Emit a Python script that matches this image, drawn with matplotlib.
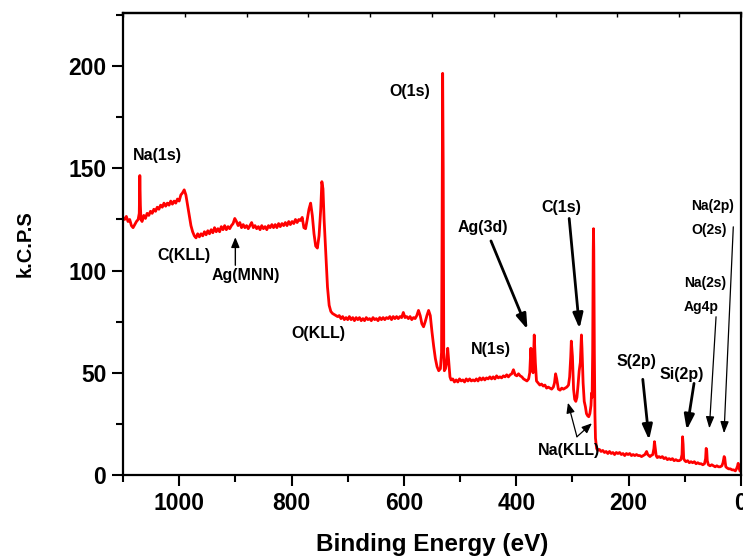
import matplotlib
matplotlib.use("Agg")
import matplotlib.pyplot as plt
from matplotlib.ticker import MultipleLocator, FixedLocator

plt.rcParams['font.family'] = ['Liberation Sans', 'DejaVu Sans']
plt.rcParams['font.weight'] = 'bold'

energy = [1100, 1097, 1094, 1091, 1088, 1085, 1082, 1079, 1076, 1073, 1071, 1070, 1069, 1068, 1066, 1063, 1060, 1057, 1054, 1051,
          1048, 1045, 1042, 1039, 1036, 1033, 1030, 1027, 1024, 1021, 1018, 1015, 1012, 1009, 1006, 1003, 1000, 997, 994, 991,
          988, 985, 982, 979, 976, 973, 970, 967, 964, 961, 958, 955, 952, 949, 946, 943, 940, 937, 934, 931,
          928, 925, 922, 919, 916, 913, 910, 907, 904, 901, 898, 895, 892, 889, 886, 883, 880, 877, 874, 871,
          868, 865, 862, 859, 856, 853, 850, 847, 844, 841, 838, 835, 832, 829, 826, 823, 820, 817, 814, 811,
          808, 805, 802, 799, 796, 793, 790, 787, 784, 781, 778, 775, 772, 769, 766, 763, 760, 757, 754, 751,
          748, 746, 744, 742, 739, 736, 733, 730, 727, 724, 721, 718, 715, 712, 709, 706, 703, 700, 697, 694,
          691, 688, 685, 682, 679, 676, 673, 670, 667, 664, 661, 658, 655, 652, 649, 646, 643, 640, 637, 634,
          631, 628, 625, 622, 619, 616, 613, 610, 607, 604, 601, 598, 595, 592, 589, 586, 583, 580, 577, 574,
          571, 568, 565, 562, 559, 556, 553, 550, 547, 544, 541, 538, 535, 533, 532, 531, 530, 529, 528, 526,
          524, 522, 520, 518, 516, 513, 510, 507, 504, 501, 498, 495, 492, 489, 486, 483, 480, 477, 474, 471,
          468, 465, 462, 459, 456, 453, 450, 447, 444, 441, 438, 435, 432, 429, 426, 423, 420, 417, 414, 411,
          408, 405, 402, 399, 396, 393, 390, 387, 384, 381, 378, 376, 374, 372, 370, 368, 366, 364, 361, 358,
          355, 352, 349, 346, 343, 340, 337, 334, 332, 330, 328, 325, 322, 319, 316, 313, 310, 307, 305, 303,
          302, 300, 298, 296, 294, 292, 290, 288, 286, 285, 284, 283, 281, 279, 277, 275, 273, 271, 269, 267,
          266, 265, 264, 263, 262.5, 262, 261, 260, 259, 257, 255, 252, 249, 246, 243, 240, 237, 234, 231, 228,
          225, 222, 219, 216, 213, 210, 207, 204, 201, 198, 195, 192, 189, 186, 183, 180, 177, 174, 171, 168,
          166, 164, 162, 160, 157, 155, 154, 153, 151, 149, 146, 143, 140, 137, 134, 131, 128, 125, 122, 119,
          116, 113, 110, 107, 105, 104, 103, 102, 100, 98, 95, 92, 89, 86, 83, 80, 77, 74, 71, 68,
          65, 63, 62, 61, 60, 58, 55, 52, 49, 46, 43, 40, 37, 34, 32, 30, 29, 28, 27, 25,
          22, 19, 16, 13, 10, 8, 6, 5, 4, 2, 0]

kcps = [126, 125, 126.5, 124, 125, 122, 121, 122.5, 124, 125, 128, 146.5, 132, 125, 124, 127, 125.5, 128, 127, 129,
        128, 130, 129, 131, 130, 132, 131, 133, 131.5, 133, 132, 134, 132.5, 134, 133, 135, 134, 137, 138, 139.5,
        137, 132, 127, 122, 119, 117, 116, 118, 116.5, 118, 117, 119, 117.5, 119.5, 118, 120, 118.5, 121, 119, 120.5,
        119, 121.5, 120, 122, 120, 121.5, 120.5, 122, 123, 125.5, 124, 122, 123.5, 121, 122.5, 121, 122, 120.5, 122, 123.5,
        121, 122, 120.5, 121.5, 120, 122, 120.5, 121.5, 120, 122, 121, 122.5, 121, 122.5, 121, 123, 121.5, 123, 122, 123.5,
        122, 124, 122.5, 124, 123, 125, 123.5, 125, 124.5, 126, 121, 120.5, 125, 130, 133, 127, 118, 112, 111, 117,
        130, 143.5, 140, 125, 108, 92, 83, 80, 79, 78.5, 78, 77.5, 78, 76.5, 77.5, 76, 77, 76, 77.5, 76,
        77, 75.5, 77, 76, 77, 75.5, 76.5, 75.5, 77, 76, 76.5, 75.5, 77, 76, 76.5, 75.5, 77, 76, 77, 76,
        77, 76.5, 77.5, 76, 77.5, 76.5, 77.5, 76.5, 77.5, 77, 79.5, 77, 77.5, 76.5, 77.5, 76, 77, 76.5, 78, 80.5,
        78, 74, 72.5, 75, 78, 80.5, 78, 70, 63, 57, 53, 51, 52, 60, 120, 196.5, 150, 60, 51, 52,
        55, 62, 55, 48, 46.5, 47, 45.5, 46.5, 45.5, 47, 46, 46.5, 45.5, 47, 46, 47, 46, 46.5, 46, 47,
        46, 47.5, 46.5, 47.5, 46.5, 47.5, 47, 48, 47, 48, 47, 48.5, 47.5, 48, 47.5, 48.5, 48, 49, 48, 49,
        49.5, 51.5, 49, 48.5, 49.5, 48.5, 48, 47, 46.5, 46, 47, 50, 62, 52, 50, 68.5, 55, 46, 45, 44,
        44.5, 43.5, 44, 42.5, 43, 42.5, 42, 43, 45, 49.5, 47, 42, 41.5, 42.5, 42, 42.5, 43, 44, 48, 58,
        65.5, 58, 42, 37, 36, 38, 44, 51, 55, 62, 68.5, 62, 45, 36, 33.5, 30, 29, 28.5, 30, 34,
        40, 38, 60, 110, 120.5, 110, 60, 30, 18, 13, 12, 12.5, 11.5, 12, 11, 11.5, 10.5, 11.5, 10.5, 11,
        10, 11, 10.5, 11, 10, 10.5, 9.5, 10.5, 10, 10.5, 9.5, 10, 9.5, 10, 9.5, 9.5, 9, 9.5, 10, 11.5,
        10, 9.5, 9, 9.5, 10, 13, 16.3, 14, 9.5, 8.5, 9, 8.5, 9, 8, 8.5, 7.5, 8, 7.5, 8, 7,
        7.5, 7, 7, 7.5, 10, 18.7, 15, 8, 7, 6.5, 7, 6, 6.5, 6, 6.5, 5.5, 6, 5.5, 5.5, 5,
        5.5, 8, 13, 12, 7, 5, 4.5, 5, 4.5, 4, 4.5, 4, 4, 4.5, 6, 9, 8.5, 6, 4, 3.5,
        3, 3, 2.5, 2.5, 2, 3, 4.5, 5.7, 4, 2, 1.6]

x_ticks = [1000, 800, 600, 400, 200, 0]
y_ticks = [0, 50, 100, 150, 200]

fig = plt.figure(figsize=(7.43, 5.59), dpi=100)
ax = fig.add_axes([0.1655, 0.1503, 0.8318, 0.8264])
ax.plot(energy, kcps, color='#ff0000', lw=2.0, zorder=2)

ax.set_xlim(1100, 0)
ax.set_ylim(0, 226)
ax.xaxis.set_major_locator(FixedLocator(x_ticks))
ax.xaxis.set_minor_locator(MultipleLocator(100))
ax.yaxis.set_major_locator(FixedLocator(y_ticks))
ax.yaxis.set_minor_locator(MultipleLocator(25))
ax.tick_params(axis='both', which='major', direction='out', length=8, width=1.5, labelsize=16.5, pad=4)
ax.tick_params(axis='both', which='minor', direction='out', length=5, width=1.5)
for lab in ax.get_xticklabels() + ax.get_yticklabels():
    lab.set_fontweight('bold')
for s in ax.spines.values():
    s.set_linewidth(1.6)

# top small ticks
sec = ax.secondary_xaxis('top')
sec.xaxis.set_major_locator(FixedLocator([1100 - 110 * i for i in range(11)]))
sec.tick_params(axis='x', direction='in', length=3, width=1, labeltop=False)
sec.spines['top'].set_linewidth(1.6)

ax.set_xlabel('Binding Energy (eV)', fontsize=17.5, fontweight='bold', labelpad=13)
ax.set_ylabel('k.C.P.S', fontsize=14.5, fontweight='bold', labelpad=24)

fs = 11.5
fs2 = 10
def lab(txt, x, y, size=fs):
    ax.text(x, y, txt, ha='center', va='center', fontsize=size, fontweight='bold', zorder=4)

lab('Na(1s)', 1038, 156.4)
lab('C(KLL)', 992, 107.5)
lab('Ag(MNN)', 882, 97.7)
lab('O(KLL)', 752, 69.4)
lab('O(1s)', 590, 187.7)
lab('Ag(3d)', 460, 121)
lab('C(1s)', 319, 131)
lab('N(1s)', 446, 61.4)
lab('Na(KLL)', 306, 12.2)
lab('S(2p)', 186.7, 55.4)
lab('Si(2p)', 105.5, 49.4)
lab('Na(2s)', 64, 93.7, fs2)
lab('Ag4p', 71.6, 82.3, fs2)
lab('Na(2p)', 50.4, 131.5, fs2)
lab('O(2s)', 56.3, 120, fs2)

def arrow(x0, y0, x1, y1, lw=1.0, hw=5, hl=8):
    ax.annotate('', xy=(x1, y1), xytext=(x0, y0),
                arrowprops=dict(arrowstyle=f'-|>,head_width={hw/10:.2f},head_length={hl/10:.2f}',
                                color='black', lw=lw, shrinkA=0, shrinkB=0), zorder=3)

arrow(900, 102.6, 900, 116.3, lw=1.0, hw=2.5, hl=6)
arrow(445, 114.5, 380, 71.2, lw=2.0, hw=3, hl=9)
arrow(305.8, 125.5, 287.4, 71.6, lw=2.0, hw=3, hl=9)
arrow(292, 18.7, 308, 35.3, lw=0.9, hw=2.5, hl=6)
arrow(292, 18.7, 265.4, 25.3, lw=0.9, hw=2.5, hl=6)
arrow(174.8, 46.8, 163.6, 17.1, lw=2.0, hw=3, hl=9)
arrow(83.6, 44.8, 96.6, 22, lw=2.0, hw=3, hl=9)
arrow(44.4, 77.4, 56.3, 22.8, lw=0.9, hw=2.5, hl=7)
arrow(13.7, 121.4, 30.2, 20.4, lw=0.9, hw=2.5, hl=7)

fig.savefig('out.png', dpi=100)
